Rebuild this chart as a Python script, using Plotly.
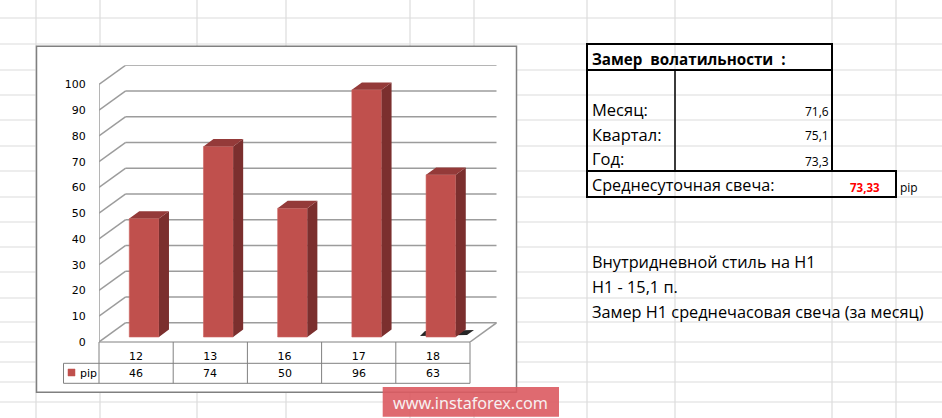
import plotly.graph_objects as go

W = 942
H = 418

days = ["12", "13", "16", "17", "18"]
pips = [46, 74, 50, 96, 63]
y_ticks = [0, 10, 20, 30, 40, 50, 60, 70, 80, 90, 100]
series_name = "pip"

table_title = "Замер\u00a0\u00a0волатильности\u00a0\u00a0:"
table_rows = ["Месяц:", "Квартал:", "Год:"]
table_values = ["71,6", "75,1", "73,3"]
avg_label = "Среднесуточная свеча:"
avg_value = "73,33"
notes = ["Внутридневной стиль на Н1", "Н1 - 15,1 п.", "Замер Н1 среднечасовая свеча (за месяц)"]
watermark = "www.instaforex.com"

sheet_x = [36, 100, 197, 286, 410, 474, 587, 675, 832, 896]
sheet_y = [18, 44, 70, 95, 120, 146, 171, 197, 222, 247, 272, 298, 322, 342, 362, 382, 402]

# pixel helpers, the page is photographed at 942x418
def px(x):
    return x / W

def py(y):
    return 1 - y / H

# chart geometry in axis units
wall_dx = 0.36
wall_dy = 7.5
bar_dx = 0.108
bar_dy = 1.94
face_dx = 0.135
face_dy = 2.87
bar_w = 0.4
left = -0.5
right = len(days) - 0.5

shapes = []

def line(x0, y0, x1, y1, color="#808080", width=1.0):
    shapes.append(dict(type="line", xref="paper", yref="paper", x0=px(x0), y0=py(y0), x1=px(x1), y1=py(y1),
                       line=dict(color=color, width=width), layer="below"))

def box(x0, y0, x1, y1, fill, color="#808080", width=1.0, layer="below", opacity=1):
    shapes.append(dict(type="rect", xref="paper", yref="paper", x0=px(x0), y0=py(y0), x1=px(x1), y1=py(y1),
                       fillcolor=fill, line=dict(color=color, width=width), layer=layer, opacity=opacity))

def wall(x0, y0, x1, y1, width=1.5):
    shapes.append(dict(type="line", xref="x", yref="y", x0=x0, y0=y0, x1=x1, y1=y1,
                       line=dict(color="#9c9c9c", width=width), layer="below"))

# excel sheet grid
for x in sheet_x:
    line(x, 0, x, H, "#dcdcdc", 1.2)
for y in sheet_y:
    line(0, y, W, y, "#dcdcdc", 1.2)

# chart frame
box(36.5, 46.3, 516.5, 392.3, "white", "#808080", 1.5)

# walls of the 3d chart
for v in y_ticks:
    wall(left, v, left + wall_dx, v + wall_dy)
    wall(left + wall_dx, v + wall_dy, right + wall_dx, v + wall_dy)
wall(left, 0, left, y_ticks[-1])
wall(right, 0, right + wall_dx, wall_dy)

# dark smear on the floor under the last bar
shapes.append(dict(type="path", xref="paper", yref="paper", layer="below", fillcolor="#262626",
                   line=dict(width=0),
                   path="M %f %f L %f %f L %f %f L %f %f Z" % (px(420), py(336), px(425), py(331),
                                                               px(474), py(330), px(467), py(335))))

# data table under the chart
line(99, 342, 470, 342)
line(63.5, 363.3, 470, 363.3)
line(63.5, 383.3, 470, 383.3)
line(63.5, 363.3, 63.5, 383.3)
for i in range(len(days) + 1):
    line(99 + i * 74.2, 342, 99 + i * 74.2, 383.3)
box(68, 369, 75, 376, "#c0504d", "#c0504d", 0.5)

# table on the right
box(587, 44, 832, 70, "rgba(0,0,0,0)", "black", 2)
box(587, 70, 832, 171, "rgba(0,0,0,0)", "black", 2)
box(587, 171, 896, 197, "rgba(0,0,0,0)", "black", 2)
line(675, 70, 675, 171, "black", 1.5)

# watermark
box(382.7, 387, 559, 416.7, "#dc5a60", "#dc5a60", 0, "above", 0.9)

annotations = []

def text(x, y, s, size=15, color="black", anchor="left", bold=False, font="Open Sans"):
    if bold:
        s = "<b>" + s + "</b>"
    annotations.append(dict(xref="paper", yref="paper", x=px(x), y=py(y), text=s, showarrow=False,
                            xanchor=anchor, yanchor="middle", borderpad=0,
                            font=dict(family=font, size=size, color=color)))

for i, v in enumerate(pips):
    annotations.append(dict(xref="x", yref="paper", x=i, y=py(373.5), text=str(v), showarrow=False,
                            yanchor="middle", font=dict(family="DejaVu Sans", size=11, color="black")))
text(79, 373, series_name, 11, font="DejaVu Sans")

text(590.5, 59, table_title, 15.2, bold=True)
row_y = [110, 134, 159]
val_y = [111, 136, 161]
for lab, val, y0, y1 in zip(table_rows, table_values, row_y, val_y):
    text(590.5, y0, lab, 16.5)
    text(830, y1, val, 12, anchor="right")
text(590.5, 185, avg_label, 16.2)
text(864.5, 187, avg_value, 11.5, "#ff0000", "center", True)
text(899, 187, series_name, 12)
for s, y in zip(notes, [261.5, 286.5, 311.5]):
    text(590.5, y, s, 16.3)
text(470.5, 403, watermark, 16.2, "#f7f1f1", "center", font="Noto Sans")

fig = go.Figure()
fig.add_trace(go.Bar(x=[i + bar_dx for i in range(len(days))], y=pips, base=bar_dy, width=bar_w,
                     marker=dict(color="#c0504d", line=dict(color="#cc6461", width=0.6)),
                     name=series_name, hoverinfo="skip"))

# side and top faces, from the same values
side_x, side_y, top_x, top_y = [], [], [], []
for i, v in enumerate(pips):
    x0 = i + bar_dx - bar_w / 2
    x1 = i + bar_dx + bar_w / 2
    t = v + bar_dy
    side_x += [x1, x1 + face_dx, x1 + face_dx, x1, x1, None]
    side_y += [bar_dy, bar_dy + face_dy, t + face_dy, t, bar_dy, None]
    top_x += [x0, x1, x1 + face_dx, x0 + face_dx, x0, None]
    top_y += [t, t, t + face_dy, t + face_dy, t, None]

fig.add_trace(go.Scatter(x=side_x, y=side_y, mode="lines", fill="toself", fillcolor="#7b2f2e",
                         line=dict(width=0), hoverinfo="skip"))
fig.add_trace(go.Scatter(x=top_x, y=top_y, mode="lines", fill="toself", fillcolor="#943a39",
                         line=dict(width=0), hoverinfo="skip"))

fig.update_layout(
    width=W, height=H, showlegend=False, margin=dict(l=0, r=0, t=0, b=0),
    paper_bgcolor="white", plot_bgcolor="rgba(0,0,0,0)",
    shapes=shapes, annotations=annotations,
    xaxis=dict(domain=[px(99), px(99 + 74.2 * 5 + 0.36 * 74.2)], range=[left, right + wall_dx],
               automargin=False,
               tickmode="array", tickvals=list(range(len(days))), ticktext=days,
               showgrid=False, zeroline=False, showline=False,
               ticks="outside", ticklen=4, tickcolor="rgba(0,0,0,0)",
               tickfont=dict(family="DejaVu Sans", size=11, color="black")),
    yaxis=dict(domain=[py(342), py(342 - 2.575 * 107.5)], range=[0, 107.5],
               automargin=False,
               tickmode="array", tickvals=y_ticks,
               showgrid=False, zeroline=False, showline=False,
               ticks="outside", ticklen=10, tickcolor="rgba(0,0,0,0)",
               tickfont=dict(family="DejaVu Sans", size=11, color="black")),
)

fig.write_html("out.html", config=dict(displayModeBar=False),
               post_script="document.body.style.margin='0';")
